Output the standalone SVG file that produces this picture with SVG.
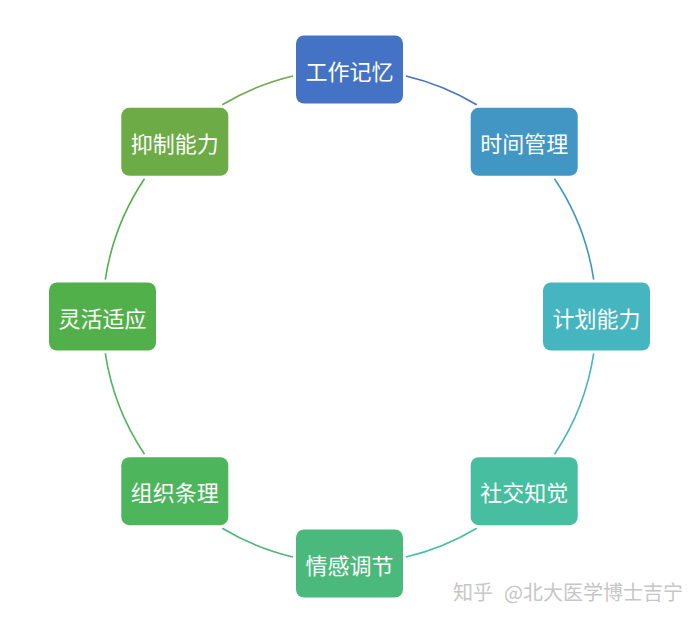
<svg xmlns="http://www.w3.org/2000/svg" width="700" height="622" viewBox="0 0 700 622">
<style>
.node rect{stroke:none}
.node text{font-family:"Noto Sans CJK SC","Microsoft YaHei",sans-serif;font-size:22px;fill:#fff;text-anchor:middle;dominant-baseline:central}
.arc{fill:none;stroke-width:1.6}
.wm{font-family:"Noto Sans CJK SC",sans-serif;font-size:20px;fill:#c6c6c6}
</style>
<rect width="700" height="622" fill="#fff"/>
<g id="connectors">
<path class="arc" stroke="#4472C4" d="M405.9,76.0 A247,247 0 0 1 476.7,104.8"/>
<path class="arc" stroke="#4296C4" d="M554.5,178.8 A247,247 0 0 1 593.7,279.6"/>
<path class="arc" stroke="#45B5C0" d="M593.7,353.4 A247,247 0 0 1 554.5,454.2"/>
<path class="arc" stroke="#47BEA0" d="M476.7,528.2 A247,247 0 0 1 405.9,557.0"/>
<path class="arc" stroke="#4BB97B" d="M293.1,557.0 A247,247 0 0 1 222.3,528.2"/>
<path class="arc" stroke="#4DB55C" d="M144.5,454.2 A247,247 0 0 1 105.3,353.4"/>
<path class="arc" stroke="#52B04A" d="M105.3,279.6 A247,247 0 0 1 144.5,178.8"/>
<path class="arc" stroke="#6DAB46" d="M222.3,104.8 A247,247 0 0 1 293.1,76.0"/>
</g>
<g id="n1" class="node"><rect x="296" y="35.5" width="107" height="68" rx="8" fill="#4472C4"/><text x="349.5" y="69.5">工作记忆</text></g>
<g id="n2" class="node"><rect x="470.7" y="107.8" width="107" height="68" rx="8" fill="#4296C4"/><text x="524.2" y="141.8">时间管理</text></g>
<g id="n3" class="node"><rect x="543" y="282.5" width="107" height="68" rx="8" fill="#45B5C0"/><text x="596.5" y="316.5">计划能力</text></g>
<g id="n4" class="node"><rect x="470.7" y="457.2" width="107" height="68" rx="8" fill="#47BEA0"/><text x="524.2" y="491.2">社交知觉</text></g>
<g id="n5" class="node"><rect x="296" y="529.5" width="107" height="68" rx="8" fill="#4BB97B"/><text x="349.5" y="563.5">情感调节</text></g>
<g id="n6" class="node"><rect x="121.3" y="457.2" width="107" height="68" rx="8" fill="#4DB55C"/><text x="174.8" y="491.2">组织条理</text></g>
<g id="n7" class="node"><rect x="49" y="282.5" width="107" height="68" rx="8" fill="#52B04A"/><text x="102.5" y="316.5">灵活适应</text></g>
<g id="n8" class="node"><rect x="121.3" y="107.8" width="107" height="68" rx="8" fill="#6DAB46"/><text x="174.8" y="141.8">抑制能力</text></g>
<text class="wm" x="453" y="600"><tspan>知乎</tspan><tspan x="504">@北大医学博士吉宁</tspan></text>
</svg>
